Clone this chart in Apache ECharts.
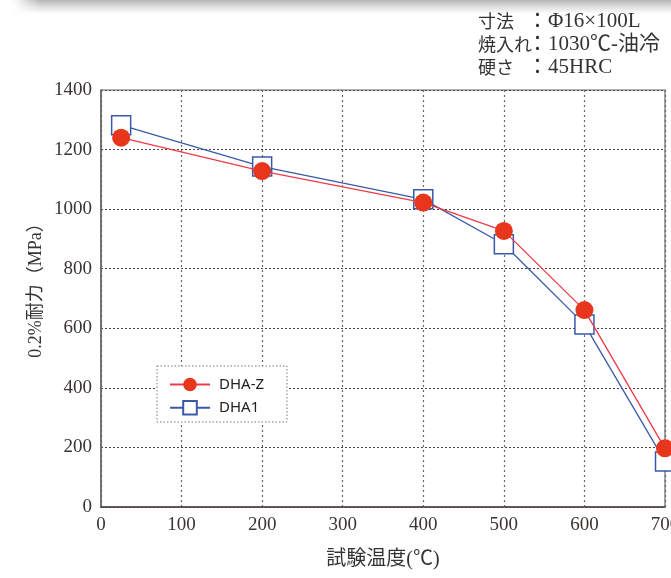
<!DOCTYPE html>
<html><head><meta charset="utf-8">
<script src="https://cdn.jsdelivr.net/npm/echarts@6/dist/echarts.min.js"></script>
<style>html,body{margin:0;padding:0;background:#fff}#c{width:671px;height:578px}</style>
</head><body><div id="c"></div>
<script>
const temps = [25, 200, 400, 500, 600, 700];
const dhaZ = [1240, 1128, 1022, 927, 661, 197];
const dha1 = [1282, 1143, 1033, 882, 613, 153];
const seriesNames = ['DHA-Z', 'DHA1'];
const xTitle = '試験温度(℃)';
const yTitle = '0.2%耐力（MPa）';
const noteLabels = ['寸法', '焼入れ', '硬さ'];
const noteValues = ['：Φ16×100L', '：1030℃-油冷', '：45HRC'];

const chart = echarts.init(document.getElementById('c'), null, {renderer: 'canvas'});
const serif = '"Liberation Serif", "Noto Sans CJK JP", serif';
const cjk = '"Noto Sans CJK JP", "Liberation Serif", serif';
const graphics = [
  {type: 'rect', shape: {x: 12, y: 0, width: 680, height: 14},
   style: {fill: new echarts.graphic.LinearGradient(0, 0, 0, 1, [
     {offset: 0, color: '#b5b5b5'}, {offset: 0.45, color: '#dcdcdc'}, {offset: 1, color: '#ffffff'}])}, silent: true},
  {type: 'rect', shape: {x: 0, y: 0, width: 40, height: 14},
   style: {fill: new echarts.graphic.LinearGradient(0, 0, 1, 0, [
     {offset: 0, color: '#ffffff'}, {offset: 0.4, color: 'rgba(255,255,255,0.9)'}, {offset: 1, color: 'rgba(255,255,255,0)'}])}, silent: true},
  {type: 'rect', shape: {x: 157, y: 366, width: 130, height: 56},
   style: {fill: '#fff', stroke: '#777', lineWidth: 1, lineDash: [1.5, 2]}, z: 5},
  {type: 'text', x: 36, y: 286, rotation: Math.PI / 2, z: 10,
   style: {text: yTitle, font: '18px ' + serif, fill: '#333', align: 'center', verticalAlign: 'middle'}}
];
noteLabels.forEach((t, i) => {
  graphics.push({type: 'text', x: 478, y: 12 + i * 23, style: {text: t, font: '18px ' + cjk, fill: '#333'}, z: 10});
  graphics.push({type: 'text', x: 527, y: 11 + i * 23, style: {text: noteValues[i], font: '21px ' + serif, fill: '#333'}, z: 10});
});

chart.setOption({
  animation: false,
  backgroundColor: '#fff',
  grid: {left: 101, right: 6, top: 90, bottom: 71, show: true, borderColor: '#6a6462', borderWidth: 1.2,
         backgroundColor: 'transparent', containLabel: false, outerBoundsMode: 'none'},
  xAxis: {
    type: 'value', min: 0, max: 700, interval: 100,
    name: xTitle, nameLocation: 'middle', nameGap: 43,
    nameTextStyle: {fontFamily: serif, fontSize: 20, color: '#333'},
    axisLine: {show: true, lineStyle: {color: '#4a4240', width: 1.5}},
    axisTick: {show: false},
    axisLabel: {fontFamily: serif, fontSize: 19, color: '#3a3432', margin: 9, formatter: v => String(v)},
    splitLine: {show: true, lineStyle: {color: '#666', type: [2, 3], width: 1.2}}
  },
  yAxis: {
    type: 'value', min: 0, max: 1400, interval: 200,
    axisLine: {show: true, lineStyle: {color: '#6a6462', width: 1.5}},
    axisTick: {show: false},
    axisLabel: {fontFamily: serif, fontSize: 19, color: '#3a3432', margin: 9, formatter: v => String(v)},
    splitLine: {show: true, lineStyle: {color: '#444', type: [2, 2], width: 1}}
  },
  legend: {
    left: 164, top: 372, orient: 'vertical', itemGap: 8,
    itemWidth: 40, itemHeight: 17, z: 6,
    textStyle: {fontFamily: '"Noto Sans", sans-serif', fontSize: 15, color: '#222', padding: [0, 0, 0, 4]},
    data: seriesNames
  },
  graphic: graphics,
  series: [
    {name: seriesNames[1], type: 'line', clip: false, z: 3,
     data: temps.map((t, i) => [t, dha1[i]]),
     symbol: 'rect', symbolSize: 19,
     itemStyle: {color: '#fff', borderColor: '#3a5aa8', borderWidth: 1.5},
     lineStyle: {color: '#3a5aa8', width: 1.3}},
    {name: seriesNames[0], type: 'line', clip: false, z: 4,
     data: temps.map((t, i) => [t, dhaZ[i]]),
     symbol: 'circle', symbolSize: 18,
     itemStyle: {color: '#e8361c', borderWidth: 0},
     lineStyle: {color: '#ee3a48', width: 1.3}}
  ]
});
</script></body></html>
